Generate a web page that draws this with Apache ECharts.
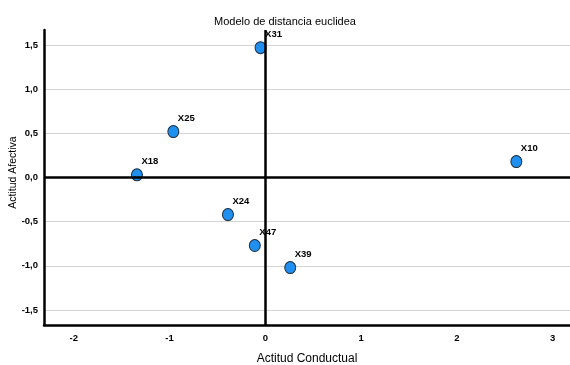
<!DOCTYPE html>
<html>
<head>
<meta charset="utf-8">
<script src="https://cdn.jsdelivr.net/npm/echarts@6/dist/echarts.min.js"></script>
<style>html,body{margin:0;padding:0;background:#fff}#c{width:570px;height:365px}</style>
</head>
<body>
<div id="c"></div>
<script>
const names = ["X31", "X25", "X18", "X10", "X24", "X47", "X39"];
const conductual = [-0.05, -0.96, -1.34, 2.62, -0.39, -0.11, 0.26];
const afectiva = [1.47, 0.52, 0.03, 0.18, -0.42, -0.77, -1.02];
const xRange = [-2.31, 3.18];
const yRange = [-1.67, 1.67];
const titleText = "Modelo de distancia euclidea";
const xName = "Actitud Conductual";
const yName = "Actitud Afectiva";

const FONT = "'Liberation Sans Narrow', 'Arial Narrow', 'Liberation Sans', Arial, sans-serif";
const fmt = v => String(v).replace('.', ',');

const chart = echarts.init(document.getElementById('c'), null, {renderer: 'canvas'});
chart.setOption({
  animation: false,
  backgroundColor: '#fff',
  title: {
    text: titleText, left: 'center', top: 11,
    textStyle: {fontFamily: FONT, fontSize: 11, fontWeight: 'normal', color: '#000'}
  },
  grid: {left: 44, right: 0, top: 30, bottom: 40, containLabel: false, outerBoundsMode: 'none'},
  xAxis: {
    type: 'value', min: xRange[0], max: xRange[1], splitNumber: 5,
    name: xName, nameLocation: 'middle', nameGap: 28, nameMoveOverlap: false,
    nameTextStyle: {fontFamily: FONT, fontSize: 12, color: '#000'},
    axisLine: {show: true, onZero: false, lineStyle: {color: '#000', width: 2.5}},
    axisTick: {show: false},
    splitLine: {show: false},
    axisLabel: {showMinLabel: false, showMaxLabel: false, margin: 8, formatter: fmt,
      fontFamily: FONT, fontSize: 9.5, color: '#000', fontWeight: 'bold'}
  },
  yAxis: {
    type: 'value', min: yRange[0], max: yRange[1], splitNumber: 6,
    name: yName, nameLocation: 'middle', nameGap: 25, nameMoveOverlap: false,
    nameTextStyle: {fontFamily: FONT, fontSize: 10.5, color: '#000', padding: [0, 0, 0, 10]},
    axisLine: {show: true, onZero: false, lineStyle: {color: '#000', width: 2.5}},
    axisTick: {show: false},
    splitLine: {show: true, showMinLine: false, showMaxLine: false, lineStyle: {color: '#d4d4d4', width: 1}},
    axisLabel: {showMinLabel: false, showMaxLabel: false, margin: 6,
      formatter: v => v.toFixed(1).replace('.', ','),
      fontFamily: FONT, fontSize: 9.5, color: '#000', fontWeight: 'bold'}
  },
  series: [{
    type: 'scatter',
    data: names.map((n, i) => ({name: n, value: [conductual[i], afectiva[i]]})),
    symbol: 'circle',
    symbolSize: [11, 12],
    z: 3,
    itemStyle: {color: '#1f8ff0', borderColor: '#1a2a3a', borderWidth: 1, opacity: 1},
    label: {
      show: true, position: [10.5, -7], formatter: p => p.name,
      verticalAlign: 'middle', align: 'left',
      fontFamily: FONT, fontSize: 9.5, fontWeight: 'bold', color: '#000'
    },
    markLine: {
      silent: true, symbol: 'none', z: 4,
      label: {show: false},
      lineStyle: {color: '#000', width: 2.5, type: 'solid'},
      data: [{xAxis: 0}, {yAxis: 0}]
    }
  }]
});
</script>
</body>
</html>
